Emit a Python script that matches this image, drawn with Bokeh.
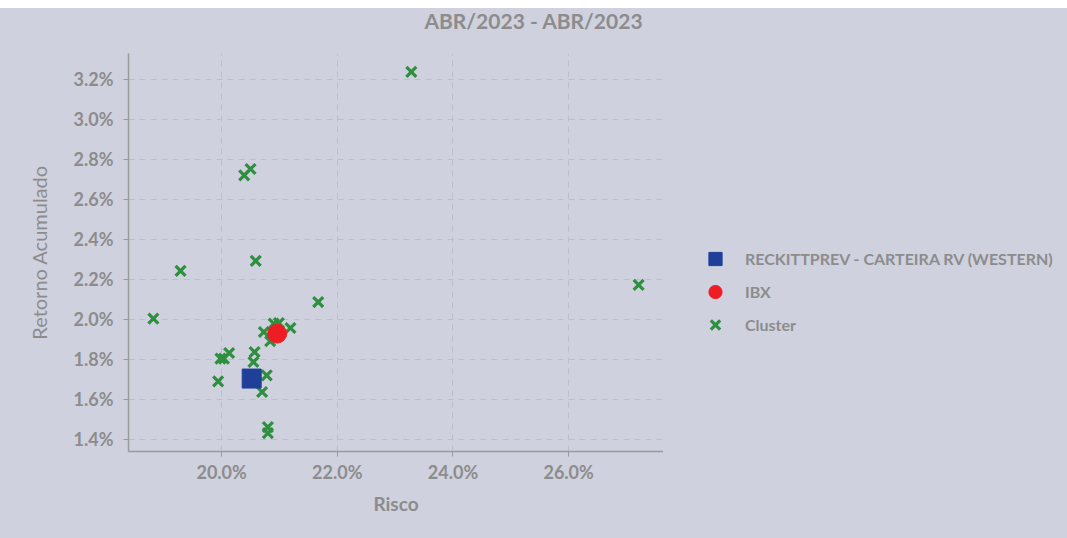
from bokeh.plotting import figure
from bokeh.layouts import row, column
from bokeh.models import Range1d, FixedTicker, PrintfTickFormatter, Legend, LegendItem, Div
from bokeh.embed import file_html
from bokeh.resources import INLINE

# ---- data (percent values) ----
cluster_risk = [23.28, 20.50, 20.39, 19.29, 20.59, 18.82, 21.67, 27.21,
                20.73, 20.90, 20.99, 21.19, 20.84, 20.13, 19.98, 20.04,
                20.57, 20.55, 19.94, 20.78, 20.70, 20.80, 20.80]
cluster_ret = [3.238, 2.752, 2.720, 2.242, 2.292, 2.003, 2.086, 2.172,
               1.936, 1.978, 1.981, 1.956, 1.890, 1.831, 1.803, 1.803,
               1.836, 1.786, 1.689, 1.719, 1.636, 1.460, 1.430]
fund_risk = [20.52]
fund_ret = [1.703]
ibx_risk = [20.96]
ibx_ret = [1.928]

x_ticks = [20, 22, 24, 26]
y_ticks = [1.4, 1.6, 1.8, 2.0, 2.2, 2.4, 2.6, 2.8, 3.0, 3.2]

title_text = "ABR/2023 - ABR/2023"
x_label = "Risco"
y_label = "Retorno Acumulado"
fund_name = "RECKITTPREV - CARTEIRA RV (WESTERN)"
ibx_name = "IBX"
cluster_name = "Cluster"

BG = "#cfd1de"
TXT = "#8c8c8c"
FONT = "Lato"
GREEN = "#2e8f3e"
RED = "#ee1d24"
BLUE = "#1f3f99"

title_div = Div(text=title_text, width=1067, height=26, margin=0,
                styles={"background-color": BG, "color": TXT,
                        "font-family": FONT, "font-weight": "bold",
                        "font-size": "21px", "line-height": "26px",
                        "text-align": "center", "width": "1067px"})

p = figure(width=663, height=504, output_backend="svg", toolbar_location=None,
           x_range=Range1d(18.39, 27.64), y_range=Range1d(1.338, 3.330),
           min_border_left=128, min_border_right=0, min_border_top=19,
           min_border_bottom=87)

p.background_fill_color = BG
p.border_fill_color = BG
p.outline_line_color = None

for ax in (p.xaxis[0], p.yaxis[0]):
    ax.axis_line_color = "#9a9a9a"
    ax.axis_line_width = 1.5
    ax.major_tick_line_color = "#9a9a9a"
    ax.major_tick_out = 5
    ax.major_tick_in = 0
    ax.minor_tick_line_color = None
    ax.major_label_text_font = FONT
    ax.major_label_text_font_size = "18px"
    ax.major_label_text_font_style = "bold"
    ax.major_label_text_color = TXT
    ax.axis_label_text_font = FONT
    ax.axis_label_text_color = TXT
    ax.formatter = PrintfTickFormatter(format="%.1f%%")

p.xaxis[0].ticker = FixedTicker(ticks=x_ticks)
p.yaxis[0].ticker = FixedTicker(ticks=y_ticks)
p.xaxis[0].axis_label = x_label
p.yaxis[0].axis_label = y_label
p.xaxis[0].axis_label_text_font_size = "19px"
p.xaxis[0].axis_label_text_font_style = "bold"
p.yaxis[0].axis_label_text_font_size = "20px"
p.yaxis[0].axis_label_text_font_style = "normal"
p.xaxis[0].major_label_standoff = 4
p.yaxis[0].major_label_standoff = 10
p.xaxis[0].axis_label_standoff = 6
p.yaxis[0].axis_label_standoff = 20

for g in (p.xgrid[0], p.ygrid[0]):
    g.grid_line_color = "#bcbec9"
    g.grid_line_dash = "6 5"
    g.grid_line_width = 1

p.scatter(cluster_risk, cluster_ret, marker="x", size=14,
          line_color=GREEN, line_width=3.2)
p.scatter(ibx_risk, ibx_ret, marker="circle", size=19,
          fill_color=RED, line_color=RED)
p.scatter(fund_risk, fund_ret, marker="square", size=19,
          fill_color=BLUE, line_color=BLUE)

# legend panel (separate figure to the right of the plot); its proxy
# renderers use the same data but fall outside this panel's ranges
lf = figure(width=404, height=504, output_backend="svg", toolbar_location=None,
            x_range=Range1d(0, 1), y_range=Range1d(0, 1),
            x_axis_type=None, y_axis_type=None,
            min_border_left=0, min_border_right=0, min_border_top=0,
            min_border_bottom=0)
lf.background_fill_color = None
lf.border_fill_color = BG
lf.outline_line_color = None
lf.xgrid.visible = False
lf.ygrid.visible = False

l_fund = lf.scatter(fund_risk, fund_ret, marker="square", size=19,
                    fill_color=BLUE, line_color=BLUE)
l_ibx = lf.scatter(ibx_risk, ibx_ret, marker="circle", size=19,
                   fill_color=RED, line_color=RED)
l_cluster = lf.scatter(cluster_risk, cluster_ret, marker="x", size=14,
                       line_color=GREEN, line_width=3.2)

legend = Legend(items=[LegendItem(label=fund_name, renderers=[l_fund]),
                       LegendItem(label=ibx_name, renderers=[l_ibx]),
                       LegendItem(label=cluster_name, renderers=[l_cluster])],
                location=(32, 110), margin=0, padding=0, spacing=0,
                glyph_width=40, glyph_height=33, label_height=33,
                label_standoff=10, border_line_color=None,
                background_fill_alpha=0,
                label_text_font=FONT, label_text_font_size="16px",
                label_text_font_style="bold", label_text_color=TXT)
lf.add_layout(legend, "center")

plots = row(p, lf, spacing=0)
plots.styles = {"background-color": BG}
layout = column(title_div, plots, spacing=0)
layout.styles = {"margin-top": "8px", "background-color": BG}

open("out.html", "w").write(file_html(layout, INLINE))
